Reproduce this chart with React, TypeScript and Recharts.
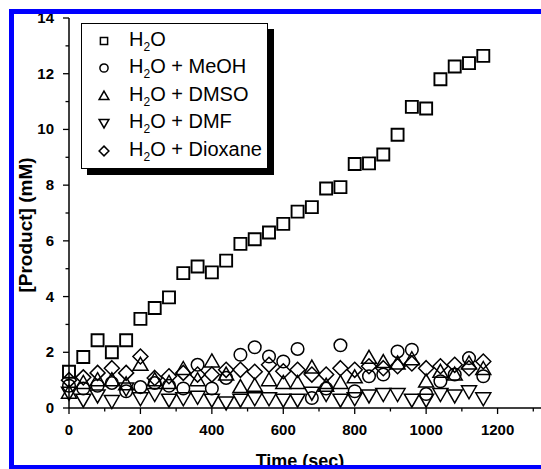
import React from 'react';
import { ScatterChart, Scatter, XAxis, YAxis, Legend } from 'recharts';

const times = [0, 40, 80, 120, 160, 200, 240, 280, 320, 360, 400, 440, 480, 520, 560, 600, 640, 680, 720, 760, 800, 840, 880, 920, 960, 1000, 1040, 1080, 1120, 1160];

const water = [1.3, 1.83, 2.43, 2.0, 2.43, 3.2, 3.59, 3.97, 4.84, 5.08, 4.87, 5.29, 5.89, 6.06, 6.3, 6.61, 7.05, 7.21, 7.88, 7.93, 8.76, 8.78, 9.1, 9.81, 10.81, 10.75, 11.8, 12.26, 12.38, 12.64];
const meoh = [0.8, 0.7, 0.8, 0.9, 0.6, 0.75, 0.9, 0.8, 0.7, 1.55, 0.7, 1.08, 1.91, 2.18, 1.85, 1.67, 2.12, 0.36, 0.7, 2.25, 0.6, 1.14, 1.2, 2.03, 2.09, 0.5, 0.96, 1.2, 1.79, 1.14];
const dmso = [0.55, 0.9, 1.0, 1.0, 0.85, 1.55, 1.0, 0.9, 1.4, 1.0, 1.67, 1.2, 0.75, 0.8, 1.0, 0.9, 0.9, 1.45, 0.8, 0.9, 1.1, 1.8, 1.65, 1.6, 1.75, 0.95, 1.3, 1.2, 1.6, 1.4];
const dmf = [0.55, 0.3, 0.45, 0.25, 0.7, 0.35, 0.5, 0.3, 0.35, 0.4, 0.3, 0.2, 0.3, 0.35, 0.35, 0.3, 0.3, 0.55, 0.5, 0.3, 0.35, 0.45, 0.5, 0.5, 0.3, 0.3, 0.5, 0.45, 0.6, 0.35];
const dioxane = [1.0, 1.1, 1.26, 1.43, 1.26, 1.85, 1.08, 1.14, 1.26, 1.2, 1.2, 1.37, 1.37, 1.3, 1.55, 1.32, 1.37, 1.2, 1.2, 1.43, 1.37, 1.5, 1.43, 1.5, 1.6, 1.43, 1.5, 1.55, 1.43, 1.67];

const seriesNames = ['', ' + MeOH', ' + DMSO', ' + DMF', ' + Dioxane'];
const seriesKeys = ['square', 'circle', 'triangle', 'invTriangle', 'diamond'];

const xTicks = [0, 100, 200, 300, 400, 500, 600, 700, 800, 900, 1000, 1100, 1200, 1300];
const yTicks = [0, 1, 2, 3, 4, 5, 6, 7, 8, 9, 10, 11, 12, 13, 14];

const FONT = '"Liberation Sans", Arial, sans-serif';
const BLUE = '#0000ff';

const toPoints = (vals: number[]) => times.map((t, i) => ({ t, v: vals[i] }));

// marker outline, s = scale
const markerPath = (kind: string, cx: number, cy: number, s: number) => {
  switch (kind) {
    case 'square':
      return `M${cx - 6 * s},${cy - 6 * s}h${12 * s}v${12 * s}h${-12 * s}Z`;
    case 'triangle':
      return `M${cx},${cy - 7.5 * s}L${cx + 7.5 * s},${cy + 5.5 * s}L${cx - 7.5 * s},${cy + 5.5 * s}Z`;
    case 'invTriangle':
      return `M${cx - 7.5 * s},${cy - 5.5 * s}L${cx + 7.5 * s},${cy - 5.5 * s}L${cx},${cy + 7.5 * s}Z`;
    case 'diamond':
      return `M${cx},${cy - 7.5 * s}L${cx + 7.5 * s},${cy}L${cx},${cy + 7.5 * s}L${cx - 7.5 * s},${cy}Z`;
    default:
      return '';
  }
};

const Marker = ({ kind, cx, cy, s = 1, sw = 1.6 }: any) =>
  kind === 'circle' ? (
    <circle cx={cx} cy={cy} r={6.3 * s} fill="none" stroke="#000" strokeWidth={sw} />
  ) : (
    <path d={markerPath(kind, cx, cy, s)} fill="none" stroke="#000" strokeWidth={sw} />
  );

const shapeFor = (kind: string) => (props: any) => <Marker kind={kind} cx={props.cx} cy={props.cy} sw={kind === 'square' ? 1.9 : 1.5} />;

const XTick = ({ x, y, payload }: any) => {
  const major = payload.value % 200 === 0;
  return (
    <g>
      <line x1={x} x2={x} y1={y} y2={y + (major ? 6 : 3.5)} stroke="#000" strokeWidth={1.3} />
      {major && payload.value <= 1200 && (
        <text x={x} y={y + 27} textAnchor="middle" fontFamily={FONT} fontWeight="bold" fontSize={15} fill="#000">
          {payload.value}
        </text>
      )}
    </g>
  );
};

const YTick = ({ x, y, payload }: any) => {
  const major = payload.value % 2 === 0;
  return (
    <g>
      <line x1={x} x2={x - (major ? 6 : 3.5)} y1={y} y2={y} stroke="#000" strokeWidth={1.3} />
      {major && (
        <text x={x - 15} y={y + 5} textAnchor="end" fontFamily={FONT} fontWeight="bold" fontSize={15} fill="#000">
          {payload.value}
        </text>
      )}
    </g>
  );
};

const LegendBox = () => (
  <div
    style={{
      width: 187,
      height: 146,
      border: '1.5px solid #000',
      background: '#fff',
      boxShadow: '6px 6px 0 #000',
      paddingTop: 3,
      boxSizing: 'border-box',
      fontFamily: FONT,
      fontSize: 20,
      color: '#000',
    }}
  >
    {seriesKeys.map((k, i) => (
      <div key={k} style={{ height: 27.5, display: 'flex', alignItems: 'center' }}>
        <svg width={24} height={20} style={{ marginLeft: 10 }}>
          <Marker kind={k} cx={12} cy={10} s={k === 'square' ? 0.6 : 0.65} sw={1.5} />
        </svg>
        <span style={{ marginLeft: 13, whiteSpace: 'nowrap' }}>
          H<sub style={{ fontSize: '0.6em', verticalAlign: '-0.45em' }}>2</sub>O{seriesNames[i]}
        </span>
      </div>
    ))}
  </div>
);

const YTitle = ({ viewBox }: any) => {
  const vx = viewBox ? viewBox.x : 11;
  const cy = viewBox ? viewBox.y + viewBox.height / 2 + 12 : 217;
  return (
    <text x={vx + 13} y={cy} transform={`rotate(-90, ${vx + 13}, ${cy})`} textAnchor="middle" fontFamily={FONT} fontWeight="bold" fontSize={19} fill="#000">
      [Product] (mM)
    </text>
  );
};

const XTitle = ({ viewBox }: any) => {
  const vx = viewBox ? viewBox.x : 61;
  const vy = viewBox ? viewBox.y : 400;
  return (
    <text x={vx + 231} y={vy + 59} textAnchor="middle" fontFamily={FONT} fontWeight="bold" fontSize={18} fill="#000">
      Time (sec)
    </text>
  );
};

const bar = (left: number, top: number, width: number, height: number): React.CSSProperties => ({
  position: 'absolute',
  left,
  top,
  width,
  height,
  background: BLUE,
  pointerEvents: 'none',
});

export default function App() {
  return (
    <div style={{ position: 'fixed', left: 0, top: 0, width: 541, height: 469, overflow: 'hidden', background: '#fff' }}>
      <div style={{ position: 'absolute', left: 8, top: 8 }}>
        <ScatterChart width={536} height={461} margin={{ top: 10, right: 0, bottom: 21, left: 11 }}>
          <XAxis
            type="number"
            dataKey="t"
            domain={[0, 1330]}
            ticks={xTicks}
            interval={0}
            tickSize={0}
            tickMargin={0}
            tickLine={false}
            tick={<XTick />}
            height={40}
            stroke="#000"
            strokeWidth={1.5}
            label={{ content: <XTitle /> }}
          />
          <YAxis
            type="number"
            dataKey="v"
            domain={[0, 14]}
            ticks={yTicks}
            interval={0}
            tickSize={0}
            tickMargin={0}
            tickLine={false}
            tick={<YTick />}
            width={50}
            stroke="#000"
            strokeWidth={1.5}
            label={{ content: <YTitle /> }}
          />
          <Legend
            layout="horizontal"
            verticalAlign="middle"
            align="center"
            wrapperStyle={{ position: 'absolute', left: 73, top: 15, width: 'auto', height: 'auto' }}
            content={() => <LegendBox />}
          />
          <Scatter name="H2O + Dioxane" data={toPoints(dioxane)} shape={shapeFor('diamond')} isAnimationActive={false} />
          <Scatter name="H2O + DMF" data={toPoints(dmf)} shape={shapeFor('invTriangle')} isAnimationActive={false} />
          <Scatter name="H2O + DMSO" data={toPoints(dmso)} shape={shapeFor('triangle')} isAnimationActive={false} />
          <Scatter name="H2O + MeOH" data={toPoints(meoh)} shape={shapeFor('circle')} isAnimationActive={false} />
          <Scatter name="H2O" data={toPoints(water)} shape={shapeFor('square')} isAnimationActive={false} />
        </ScatterChart>
      </div>
      <div style={bar(9, 9, 600, 4.5)} />
      <div style={bar(9, 9, 4.5, 460)} />
      <div style={bar(9, 464.5, 600, 4.5)} />
    </div>
  );
}
